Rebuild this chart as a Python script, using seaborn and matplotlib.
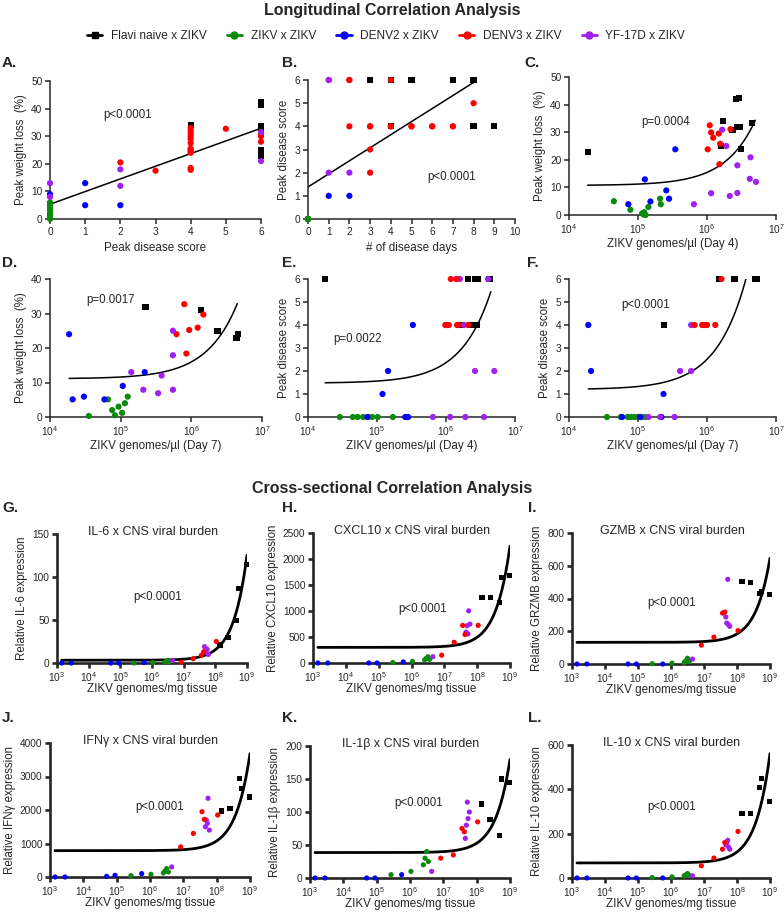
import numpy as np
import pandas as pd
import matplotlib
matplotlib.use("Agg")
import matplotlib.pyplot as plt
import seaborn as sns
from matplotlib.lines import Line2D
from matplotlib.ticker import FixedLocator, NullLocator, LogFormatterMathtext

# ---------------- data ----------------
GROUPS = ["N", "Z", "D2", "D3", "YF"]
GROUP_LABELS = ["Flavi naive x ZIKV", "ZIKV x ZIKV", "DENV2 x ZIKV", "DENV3 x ZIKV", "YF-17D x ZIKV"]

# A: peak disease score vs peak weight loss
A_x = [0]*9 + [0, 0, 0, 1, 1, 2, 2, 2, 2, 3] + [4]*12 + [5, 6, 6, 6] + [4, 6, 6, 6, 6, 6, 6, 6] + [6, 6]
A_y = [0, 0.5, 1, 1.5, 2, 3, 4, 5, 6] + [9, 13, 8, 13, 5, 5, 20.5, 18, 12, 17.5] + \
      [33, 32, 31, 30, 29, 27.5, 25.5, 25, 24.5, 24, 18.5, 17.8] + [32.7, 31, 30, 28] + \
      [34, 42.5, 41.5, 33.5, 32.5, 25, 24, 23] + [31.5, 21]
A_g = ["Z"]*9 + ["D2", "YF", "YF", "D2", "D2", "D2", "D3", "YF", "YF", "D3"] + ["D3"]*12 + ["D3"]*4 + \
      ["N"]*8 + ["YF", "YF"]

# B: number of disease days vs peak disease score (many animals overlap)
B_x = [0]*3 + [1, 1, 1, 1, 2, 2, 2, 2, 2, 3, 3, 3, 3, 3, 4, 4, 4, 4, 4, 5, 5, 5, 6, 6, 7, 7, 7, 7,
       8, 8, 8, 8, 9] + [0]*9
B_y = [0]*3 + [6, 6, 2, 1, 6, 6, 4, 2, 1, 6, 4, 4, 3, 2, 6, 4, 6, 4, 4, 6, 4, 4, 4, 4, 6, 6, 4, 4,
       6, 6, 5, 4, 4] + [0]*9
B_g = ["D2", "YF", "YF"] + ["YF", "YF", "YF", "D2", "D3", "D3", "D3", "YF", "D2", "N", "D3", "D3", "D3", "D3",
       "N", "N", "D3", "D3", "D3", "N", "D3", "D3", "D3", "D3", "N", "N", "D3", "D3",
       "N", "N", "D3", "N", "N"] + ["Z"]*9

# C: ZIKV genomes/ul day 4 (log10) vs peak weight loss
C_x = [4.27, 6.20, 6.23, 6.37, 6.42, 6.46, 6.43, 6.47, 6.49, 6.65,
       4.65, 4.89, 5.06, 5.08, 5.11, 5.15, 5.32, 5.33, 5.09,
       4.86, 5.10, 5.18, 5.41, 5.45, 5.54,
       6.01, 6.04, 6.06, 6.09, 6.17, 6.19, 6.18, 6.34,
       5.81, 6.06, 6.22, 6.28, 6.33, 6.44, 6.44, 6.63, 6.62, 6.71]
C_y = [22.9, 24.9, 34.0, 30.8, 42.0, 42.5, 31.9, 31.9, 23.8, 33.3,
       5.0, 1.9, 0.6, 0.2, 0.0, 2.9, 5.9, 3.9, 1.0,
       3.9, 12.9, 4.9, 8.9, 5.9, 23.8,
       23.8, 32.5, 29.9, 28.0, 29.5, 25.8, 18.4, 31.1,
       3.9, 7.9, 30.9, 25.0, 6.9, 18.0, 8.0, 20.9, 13.1, 12.0]
C_g = ["N"]*10 + ["Z"]*9 + ["D2"]*6 + ["D3"]*8 + ["YF"]*10

# D: ZIKV genomes/ul day 7 (log10) vs peak weight loss
D_x = [5.35, 6.14, 6.37, 6.64, 6.66,
       4.55, 4.82, 4.88, 4.92, 4.97, 5.02, 5.06, 5.10,
       4.27, 4.32, 4.48, 4.77, 5.03, 5.34,
       5.79, 5.90, 5.93, 5.97, 6.09, 6.17,
       5.15, 5.32, 5.58, 5.53, 5.74, 5.74, 5.74]
D_y = [31.9, 31.0, 25.0, 23.0, 24.0,
       0.3, 5.1, 2.0, 0.5, 3.0, 1.2, 4.0, 5.9,
       24.0, 5.1, 5.9, 5.1, 9.0, 13.0,
       24.0, 32.7, 18.4, 25.2, 25.9, 29.7,
       13.0, 7.9, 12.0, 6.9, 25.0, 17.9, 7.9]
D_g = ["N"]*5 + ["Z"]*8 + ["D2"]*6 + ["D3"]*6 + ["YF"]*7

# E: ZIKV genomes/ul day 4 (log10) vs peak disease score
E_x = [4.46, 4.65, 4.72, 4.80, 4.87, 4.93, 5.01, 5.23,
       5.08, 5.16, 5.52, 4.86, 5.41, 5.45,
       5.81, 6.06, 6.28, 6.55, 6.20, 6.61, 6.26, 6.42, 6.70,
       5.99, 6.02, 6.04, 6.07, 6.15, 6.16, 6.18, 6.32,
       4.25, 6.32, 6.42, 6.46, 6.63, 6.22, 6.36, 6.42, 6.45]
E_y = [0, 0, 0, 0, 0, 0, 0, 0,
       1, 2, 4, 0, 0, 0,
       0, 0, 0, 0, 6, 6, 4, 2, 2,
       4, 4, 4, 6, 6, 4, 4, 4,
       6, 6, 6, 6, 6, 4, 4, 4, 4]
E_g = ["Z"]*8 + ["D2"]*6 + ["YF"]*9 + ["D3"]*8 + ["N"]*9

# F: ZIKV genomes/ul day 7 (log10) vs peak disease score
F_x = [4.55, 4.75, 4.85, 4.90, 4.95, 5.00, 5.05, 5.10,
       4.28, 4.32, 5.37, 4.77, 5.03, 5.34,
       5.61, 5.77, 5.77, 5.15, 5.32, 5.53,
       5.82, 5.93, 5.96, 6.00, 6.12, 6.21,
       5.38, 6.17, 6.40, 6.69, 6.72]
F_y = [0, 0, 0, 0, 0, 0, 0, 0,
       4, 2, 1, 0, 0, 0,
       2, 2, 4, 0, 0, 0,
       4, 4, 4, 4, 4, 6,
       4, 6, 6, 6, 6]
F_g = ["Z"]*8 + ["D2"]*6 + ["YF"]*6 + ["D3"]*6 + ["N"]*5

# Cross-sectional: CNS viral burden (log10 genomes/mg tissue), shared by G-L
CS_X = [3.15, 3.45, 4.70, 4.95, 5.75,
        5.43, 6.03, 6.40, 6.45, 6.50, 6.55,
        6.65, 7.66, 7.69, 7.72, 7.74, 7.78,
        6.92, 7.30, 7.56, 7.63, 8.03,
        8.15, 8.40, 8.68, 8.74, 8.98]
CS_G = ["D2"]*5 + ["Z"]*6 + ["YF"]*6 + ["D3"]*5 + ["N"]*5
IL6 = [0, 0, 0, 0, 0.5,
       0, 0.5, 1, 2, 3, 1.5,
       3, 19, 14, 12, 16, 10,
       1, 5, 9, 13, 25,
       21, 29.5, 49.6, 87, 115]
CXCL10 = [0, 0, 0, 0, 20,
          10, 30, 60, 90, 120, 70,
          120, 592, 717, 560, 1003, 748,
          150, 399, 723, 548, 723,
          1265, 1265, 1159, 1645, 1682]
GZMB = [0, 0, 0, 0, 0,
        2, 5, 10, 20, 35, 15,
        30, 287, 250, 517, 240, 230,
        115, 164, 311, 317, 204,
        503, 497, 432, 442, 422]
IFNG = [0, 0, 20, 50, 100,
        40, 80, 120, 180, 250, 150,
        300, 1500, 1700, 1600, 2350, 1400,
        900, 1300, 1950, 1720, 1850,
        1970, 2050, 2950, 2630, 2390]
IL1B = [0, 0, 0, 0, 5,
        5, 10, 20, 30, 40, 25,
        10, 60, 80, 115, 90, 100,
        30, 35, 75, 70, 85,
        112, 89, 65, 150, 145]
IL10 = [0, 0, 0, 0, 0,
        2, 5, 10, 15, 20, 12,
        10, 150, 160, 170, 140, 130,
        55, 90, 130, 160, 210,
        290, 290, 410, 450, 345]

P_TEXT = ["p<0.0001", "p<0.0001", "p=0.0004", "p=0.0017", "p=0.0022", "p<0.0001",
          "p<0.0001", "p<0.0001", "p<0.0001", "p<0.0001", "p<0.0001", "p<0.0001"]
FIT_RANGE = [(0, 6), (0, 8), (4.27, 6.70), (4.27, 6.65), (4.25, 6.65), (4.28, 6.60),
             (3.15, 9.0), (3.15, 9.0), (3.15, 9.0), (3.15, 9.0), (3.15, 9.0), (3.15, 9.0)]

# ---------------- style ----------------
sns.set_theme(style="ticks")
plt.rcParams["font.family"] = ["Liberation Sans", "DejaVu Sans"]
plt.rcParams["mathtext.default"] = "regular"

PALETTE = {"N": "#000000", "Z": "#0b8a0b", "D2": "#0000ff", "D3": "#ff0000", "YF": "#a020f0"}
MARKS = {"N": "s", "Z": "o", "D2": "o", "D3": "o", "YF": "o"}
NARROW = ["Liberation Sans Narrow", "Liberation Sans", "DejaVu Sans"]

W, H = 784, 915
fig = plt.figure(figsize=(W / 100, H / 100), dpi=100)


def rect(l, r, t, b):
    return [l / W, 1 - b / H, (r - l) / W, (b - t) / H]


def ftext(x, y, s, **kw):
    fig.text(x / W, 1 - y / H, s, **kw)


panels = [
    dict(L="A.", x=A_x, y=A_y, g=A_g, r=(50, 261, 81, 219), log=False, xlim=(0, 6), ylim=(0, 50),
         yt=[0, 10, 20, 30, 40, 50], xt=list(range(7)), xl="Peak disease score", yl="Peak weight loss  (%)",
         lp=(2, 63), pp=(128, 115)),
    dict(L="B.", x=B_x, y=B_y, g=B_g, r=(308, 515, 80, 219), log=False, xlim=(0, 10), ylim=(0, 6),
         yt=list(range(7)), xt=list(range(11)), xl="# of disease days", yl="Peak disease score",
         lp=(282, 63), pp=(452, 177)),
    dict(L="C.", x=C_x, y=C_y, g=C_g, r=(569, 776, 77, 215), log=True, xlim=(4, 7), ylim=(0, 50),
         yt=[0, 10, 20, 30, 40, 50], xt=[4, 5, 6, 7], xl="ZIKV genomes/\u00b5l (Day 4)", yl="Peak weight loss  (%)",
         lp=(524, 63), pp=(666, 122)),
    dict(L="D.", x=D_x, y=D_y, g=D_g, r=(50, 262, 279, 417), log=True, xlim=(4, 7), ylim=(0, 40),
         yt=[0, 10, 20, 30, 40], xt=[4, 5, 6, 7], xl="ZIKV genomes/\u00b5l (Day 7)", yl="Peak weight loss  (%)",
         lp=(2, 263), pp=(111, 300)),
    dict(L="E.", x=E_x, y=E_y, g=E_g, r=(308, 515, 279, 417), log=True, xlim=(4, 7), ylim=(0, 6),
         yt=list(range(7)), xt=[4, 5, 6, 7], xl="ZIKV genomes/\u00b5l (Day 4)", yl="Peak disease score",
         lp=(282, 263), pp=(358, 339)),
    dict(L="F.", x=F_x, y=F_y, g=F_g, r=(569, 776, 279, 417), log=True, xlim=(4, 7), ylim=(0, 6),
         yt=list(range(7)), xt=[4, 5, 6, 7], xl="ZIKV genomes/\u00b5l (Day 7)", yl="Peak disease score",
         lp=(527, 263), pp=(646, 305)),
]

cs = [
    ("G.", IL6, (57, 247, 534, 663), (0, 150), [0, 50, 100, 150], "Relative IL-6 expression",
     "IL-6 x CNS viral burden", (2, 508), (158, 597)),
    ("H.", CXCL10, (313, 510, 533, 663), (0, 2500), [0, 500, 1000, 1500, 2000, 2500],
     "Relative CXCL10 expression", "CXCL10 x CNS viral burden", (282, 508), (423, 609)),
    ("I.", GZMB, (572, 770, 533, 664), (0, 800), [0, 200, 400, 600, 800],
     "Relative GRZMB expression", "GZMB x CNS viral burden", (528, 508), (672, 603)),
    ("J.", IFNG, (50, 250, 743, 877), (0, 4000), [0, 1000, 2000, 3000, 4000],
     "Relative IFN\u03b3 expression", "IFN\u03b3 x CNS viral burden", (2, 718), (160, 807)),
    ("K.", IL1B, (310, 510, 746, 878), (0, 200), [0, 50, 100, 150, 200],
     "Relative IL-1\u03b2 expression", "IL-1\u03b2 x CNS viral burden", (282, 718), (419, 803)),
    ("L.", IL10, (572, 770, 745, 878), (0, 600), [0, 200, 400, 600],
     "Relative IL-10 expression", "IL-10 x CNS viral burden", (528, 718), (672, 807)),
]
for (L, yv, r, ylim, yt, yl, tt, lp, pp) in cs:
    panels.append(dict(L=L, x=CS_X, y=yv, g=CS_G, r=r, log=True, xlim=(3, 9), ylim=ylim, yt=yt,
                       xt=list(range(3, 10)), xl="ZIKV genomes/mg tissue", yl=yl, title=tt, lp=lp, pp=pp,
                       big=True))

for i, p in enumerate(panels):
    big = p.get("big", False)
    ax = fig.add_axes(rect(*p["r"]))
    df = pd.DataFrame({"x": p["x"], "y": p["y"], "g": p["g"]})
    if p["log"]:
        df["xv"] = 10.0 ** df["x"]
    else:
        df["xv"] = df["x"].astype(float)
    # linear regression on raw x
    coef = np.polyfit(df["xv"], df["y"], 1)
    lo, hi = FIT_RANGE[i]
    xs = np.logspace(lo, hi, 300) if p["log"] else np.linspace(lo, hi, 300)
    ys = np.polyval(coef, xs)
    sns.lineplot(x=xs, y=ys, color="black", lw=2.0 if big else 1.1, ax=ax, zorder=2)
    order = {"N": 0, "D2": 1, "Z": 1, "YF": 1, "D3": 1}
    df["o"] = df["g"].map(order)
    df = df.sort_values("o", kind="stable")
    sns.scatterplot(data=df, x="xv", y="y", hue="g", style="g", palette=PALETTE, markers=MARKS,
                    s=14 if big else 20, linewidth=0, ax=ax, legend=False, clip_on=False, zorder=3)
    if p["log"]:
        ax.set_xscale("log")
        ax.set_xlim(10.0 ** p["xlim"][0], 10.0 ** p["xlim"][1])
        ax.xaxis.set_major_locator(FixedLocator([10.0 ** k for k in p["xt"]]))
        ax.xaxis.set_major_formatter(LogFormatterMathtext())
        ax.xaxis.set_minor_locator(NullLocator())
    else:
        ax.set_xlim(*p["xlim"])
        ax.set_xticks(p["xt"])
    ax.set_ylim(*p["ylim"])
    ax.set_yticks(p["yt"])
    ax.set_xlabel("")
    ax.set_ylabel(p["yl"], fontsize=8.3, labelpad=3)
    sns.despine(ax=ax)
    lw = 1.9 if big else 1.1
    for s in ["left", "bottom"]:
        ax.spines[s].set_linewidth(lw)
    ax.tick_params(axis="both", labelsize=7.3, width=lw, length=3.5, pad=2)
    l, r, t, b = p["r"]
    ftext((l + r) / 2, b + (26 if big else 29), p["xl"], ha="center", va="center", fontsize=8.4)
    ftext(p["lp"][0], p["lp"][1], p["L"], ha="left", va="center", fontsize=11, fontweight="bold")
    ftext(p["pp"][0], p["pp"][1], P_TEXT[i], ha="center", va="center", fontsize=8.3)
    if "title" in p:
        ftext((l + r) / 2 + 1, t - 2, p["title"], ha="center", va="center", fontsize=9)

# headers
ftext(392, 11, "Longitudinal Correlation Analysis", ha="center", va="center", fontsize=11.5,
      fontweight="bold", family=NARROW)
ftext(392, 488, "Cross-sectional Correlation Analysis", ha="center", va="center", fontsize=11.5,
      fontweight="bold", family=NARROW)

handles = [Line2D([0], [0], color=PALETTE[g], marker=MARKS[g], lw=2, markersize=5) for g in GROUPS]
fig.legend(handles, GROUP_LABELS, loc="center", bbox_to_anchor=(386 / W, 1 - 36 / H), ncol=5,
           frameon=False, handlelength=1.3, columnspacing=1.7, handletextpad=0.7,
           prop={"family": NARROW, "size": 8.6})

fig.savefig("out.png", dpi=100)
